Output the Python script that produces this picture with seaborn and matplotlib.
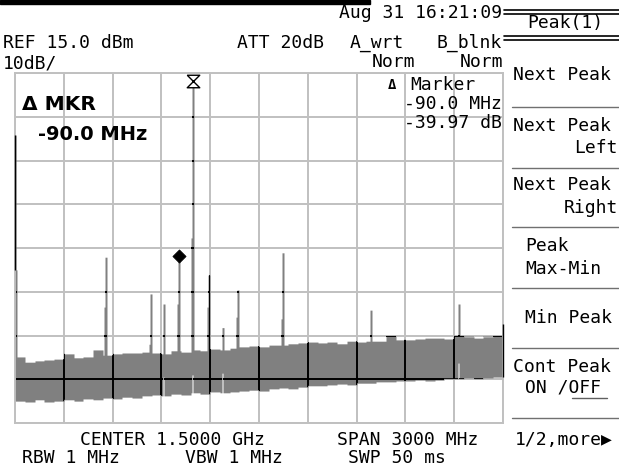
import numpy as np
import matplotlib
matplotlib.use("Agg")
import matplotlib.pyplot as plt
from matplotlib.lines import Line2D
from matplotlib.patches import Rectangle
import seaborn as sns

# noise floor envelope read every 60 MHz (dBm)
noise_freq = list(range(0, 3001, 60))
noise_top = [-49.9, -51.1, -50.8, -50.6, -50.4, -49.2, -50.1, -49.9, -48.3, -49.5,
             -49.2, -49.0, -49.0, -48.8, -49.0, -49.2, -48.5, -48.8, -48.3, -48.5,
             -48.1, -48.3, -47.9, -47.6, -47.4, -47.6, -47.2, -47.2, -46.9, -46.7,
             -46.5, -46.7, -46.5, -46.9, -46.3, -46.5, -46.3, -46.3, -45.1, -46.0,
             -46.0, -45.8, -45.6, -45.6, -45.8, -45.1, -45.3, -45.6, -45.3, -45.1, -45.3]
noise_bottom = [-60.0, -60.2, -59.7, -60.2, -60.0, -59.7, -60.0, -59.5, -59.7, -59.3,
                -59.5, -59.1, -59.3, -58.8, -58.6, -58.8, -58.4, -58.6, -58.1, -58.4,
                -57.9, -58.1, -57.9, -57.7, -57.5, -57.7, -57.2, -57.0, -57.2, -56.8,
                -56.5, -56.5, -56.3, -56.1, -56.3, -55.9, -55.9, -55.6, -55.6, -55.4,
                -55.4, -55.2, -55.4, -55.2, -54.9, -54.9, -54.7, -54.9, -54.7, -54.5, -54.5]

# discrete spurs: frequency (MHz), peak (dBm), neighbour column level, raised minimum
spike_freq = [0, 6, 558, 830, 914, 1008, 1092, 1188, 1274, 1369, 1643, 2187, 2725, 3000]
spike_peak = [0.8, -30.0, -27.1, -35.5, -37.8, -26.8, 13.2, -31.2, -43.2, -34.6, -26.1,
              -39.2, -37.8, -42.4]
spike_shoulder = [np.nan, np.nan, -38.5, -47.0, np.nan, -37.8, -22.7, -38.5, np.nan, -40.8,
                  -41.2, np.nan, -47.0, np.nan]
spike_floor = [np.nan, np.nan, np.nan, np.nan, -54.5, np.nan, -54.0, np.nan, -53.6, np.nan,
               np.nan, np.nan, -51.3, np.nan]

marker_freq = 1008
marker_level = -26.8
delta_freq = 1092
delta_level = 13.2

W, H = 619, 471
GRID = "#c0c0c0"
TRACE = "#808080"

sns.set_style("white")
plt.rcParams["font.family"] = ["DejaVu Sans Mono", "DejaVu Sans"]

fig = plt.figure(figsize=(W / 100, H / 100), dpi=100)
fig.patch.set_facecolor("white")
ax = fig.add_axes([15 / W, 48 / H, 488 / W, 350 / H])
ax.set_xlim(0, 3000)
ax.set_ylim(-65, 15)
xt = np.arange(0, 3001, 300)
yt = np.arange(-65, 16, 10)
ax.set_xticks(xt)
ax.set_yticks(yt)
ax.tick_params(length=0, labelbottom=False, labelleft=False)
ax.grid(True, color=GRID, lw=1.4, zorder=0)
for s in ax.spines.values():
    s.set_color(GRID)
    s.set_linewidth(1.4)

# one column per screen pixel, noise held from the readings
ncol = 488
dw = 3000 / ncol
edges = np.arange(ncol + 1) * dw
centers = edges[:-1] + dw / 2
idx = np.searchsorted(noise_freq, centers, side="right") - 1
top = np.array(noise_top)[idx]
bot = np.array(noise_bottom)[idx]
for f, pk, sh, fl in zip(spike_freq, spike_peak, spike_shoulder, spike_floor):
    i = min(int(f / dw), ncol - 1)
    top[i] = max(top[i], pk)
    if 0 < f < 3000:
        top[i + 1] = max(top[i + 1], pk)
    if not np.isnan(sh) and i > 0:
        top[i - 1] = max(top[i - 1], sh)
    if not np.isnan(fl):
        bot[i] = fl

poly = ax.fill_between(edges, np.append(top, top[-1]), np.append(bot, bot[-1]),
                       step="post", color=TRACE, lw=0, zorder=1, antialiased=False)
clip = poly.get_paths()[0]

# grid turns black where it crosses the trace
for y in yt:
    ln = ax.axhline(y, color="black", lw=1.4, zorder=2)
    ln.set_clip_path(clip, ax.transData)
for x in xt:
    ln = ax.axvline(x, color="black", lw=1.4, zorder=2)
    ln.set_clip_path(clip, ax.transData)

# spurs sitting on the frame edges overlap the border and show black
for f, pk in zip(spike_freq, spike_peak):
    if f == 0:
        ax.vlines(f, top[1], pk, color="black", lw=1.0, zorder=4, clip_on=False)
    elif f == 3000:
        ax.vlines(f, bot[-1], pk, color="black", lw=1.0, zorder=4, clip_on=False)

sns.scatterplot(x=[marker_freq], y=[marker_level], marker="D", s=45, color="black",
                edgecolor="black", ax=ax, zorder=5)
hourglass = [(-1, 1), (1, 1), (-1, -1), (1, -1), (-1, 1)]
ax.plot([delta_freq], [delta_level], marker=hourglass, ms=9, mfc="white", mec="black",
        mew=1.0, ls="none", zorder=5, clip_on=False)


def label(x, y, s, size=13, ha="left", **kw):
    fig.text(x / W, 1 - y / H, s, ha=ha, va="center", fontsize=size, color="black", **kw)


def hline(x0, x1, y, color="black", lw=1.0):
    fig.add_artist(Line2D([x0 / W, x1 / W], [1 - y / H, 1 - y / H], color=color, lw=lw,
                          transform=fig.transFigure))


fig.add_artist(Rectangle((0, 1 - 4 / H), 370 / W, 4 / H, color="black",
                         transform=fig.transFigure))

# header
label(502, 13, "Aug 31 16:21:09", ha="right")
label(3, 43, "REF 15.0 dBm")
label(237, 43, "ATT 20dB")
label(350, 43, "A_wrt")
label(502, 43, "B_blnk", ha="right")
label(3, 64, "10dB/")
label(415, 62, "Norm", ha="right")
label(503, 62, "Norm", ha="right")

# marker readout inside the graticule
label(22, 104, "Δ MKR", size=14.5, weight="bold", family="DejaVu Sans")
label(38, 135, "-90.0 MHz", size=14, weight="bold", family="DejaVu Sans")
label(388, 85, "Δ", size=10, weight="bold")
label(410, 85, "Marker")
label(502, 104, "-90.0 MHz", ha="right")
label(502, 123, "-39.97 dB", ha="right")

# footer
label(80, 440, "CENTER 1.5000 GHz")
label(22, 458, "RBW 1 MHz")
label(185, 458, "VBW 1 MHz")
label(337, 440, "SPAN 3000 MHz")
label(348, 458, "SWP 50 ms")

# softkey panel
for y in (10, 14, 36, 40):
    hline(504, 619, y, lw=1.2)
label(527, 23, "Peak(1)")
label(513, 75, "Next Peak")
label(513, 126, "Next Peak")
label(618, 148, "Left", ha="right")
label(513, 185, "Next Peak")
label(618, 208, "Right", ha="right")
label(525, 246, "Peak")
label(525, 269, "Max-Min")
label(525, 318, "Min Peak")
label(513, 367, "Cont Peak")
label(525, 388, "ON /OFF")
hline(572, 607, 398, color="#606060", lw=1.0)
label(515, 440, "1/2,more▶")
for y in (107, 168, 227, 288, 348, 418):
    hline(512, 619, y, color="#707070", lw=1.0)

fig.savefig("out.png", dpi=100, facecolor="white")
